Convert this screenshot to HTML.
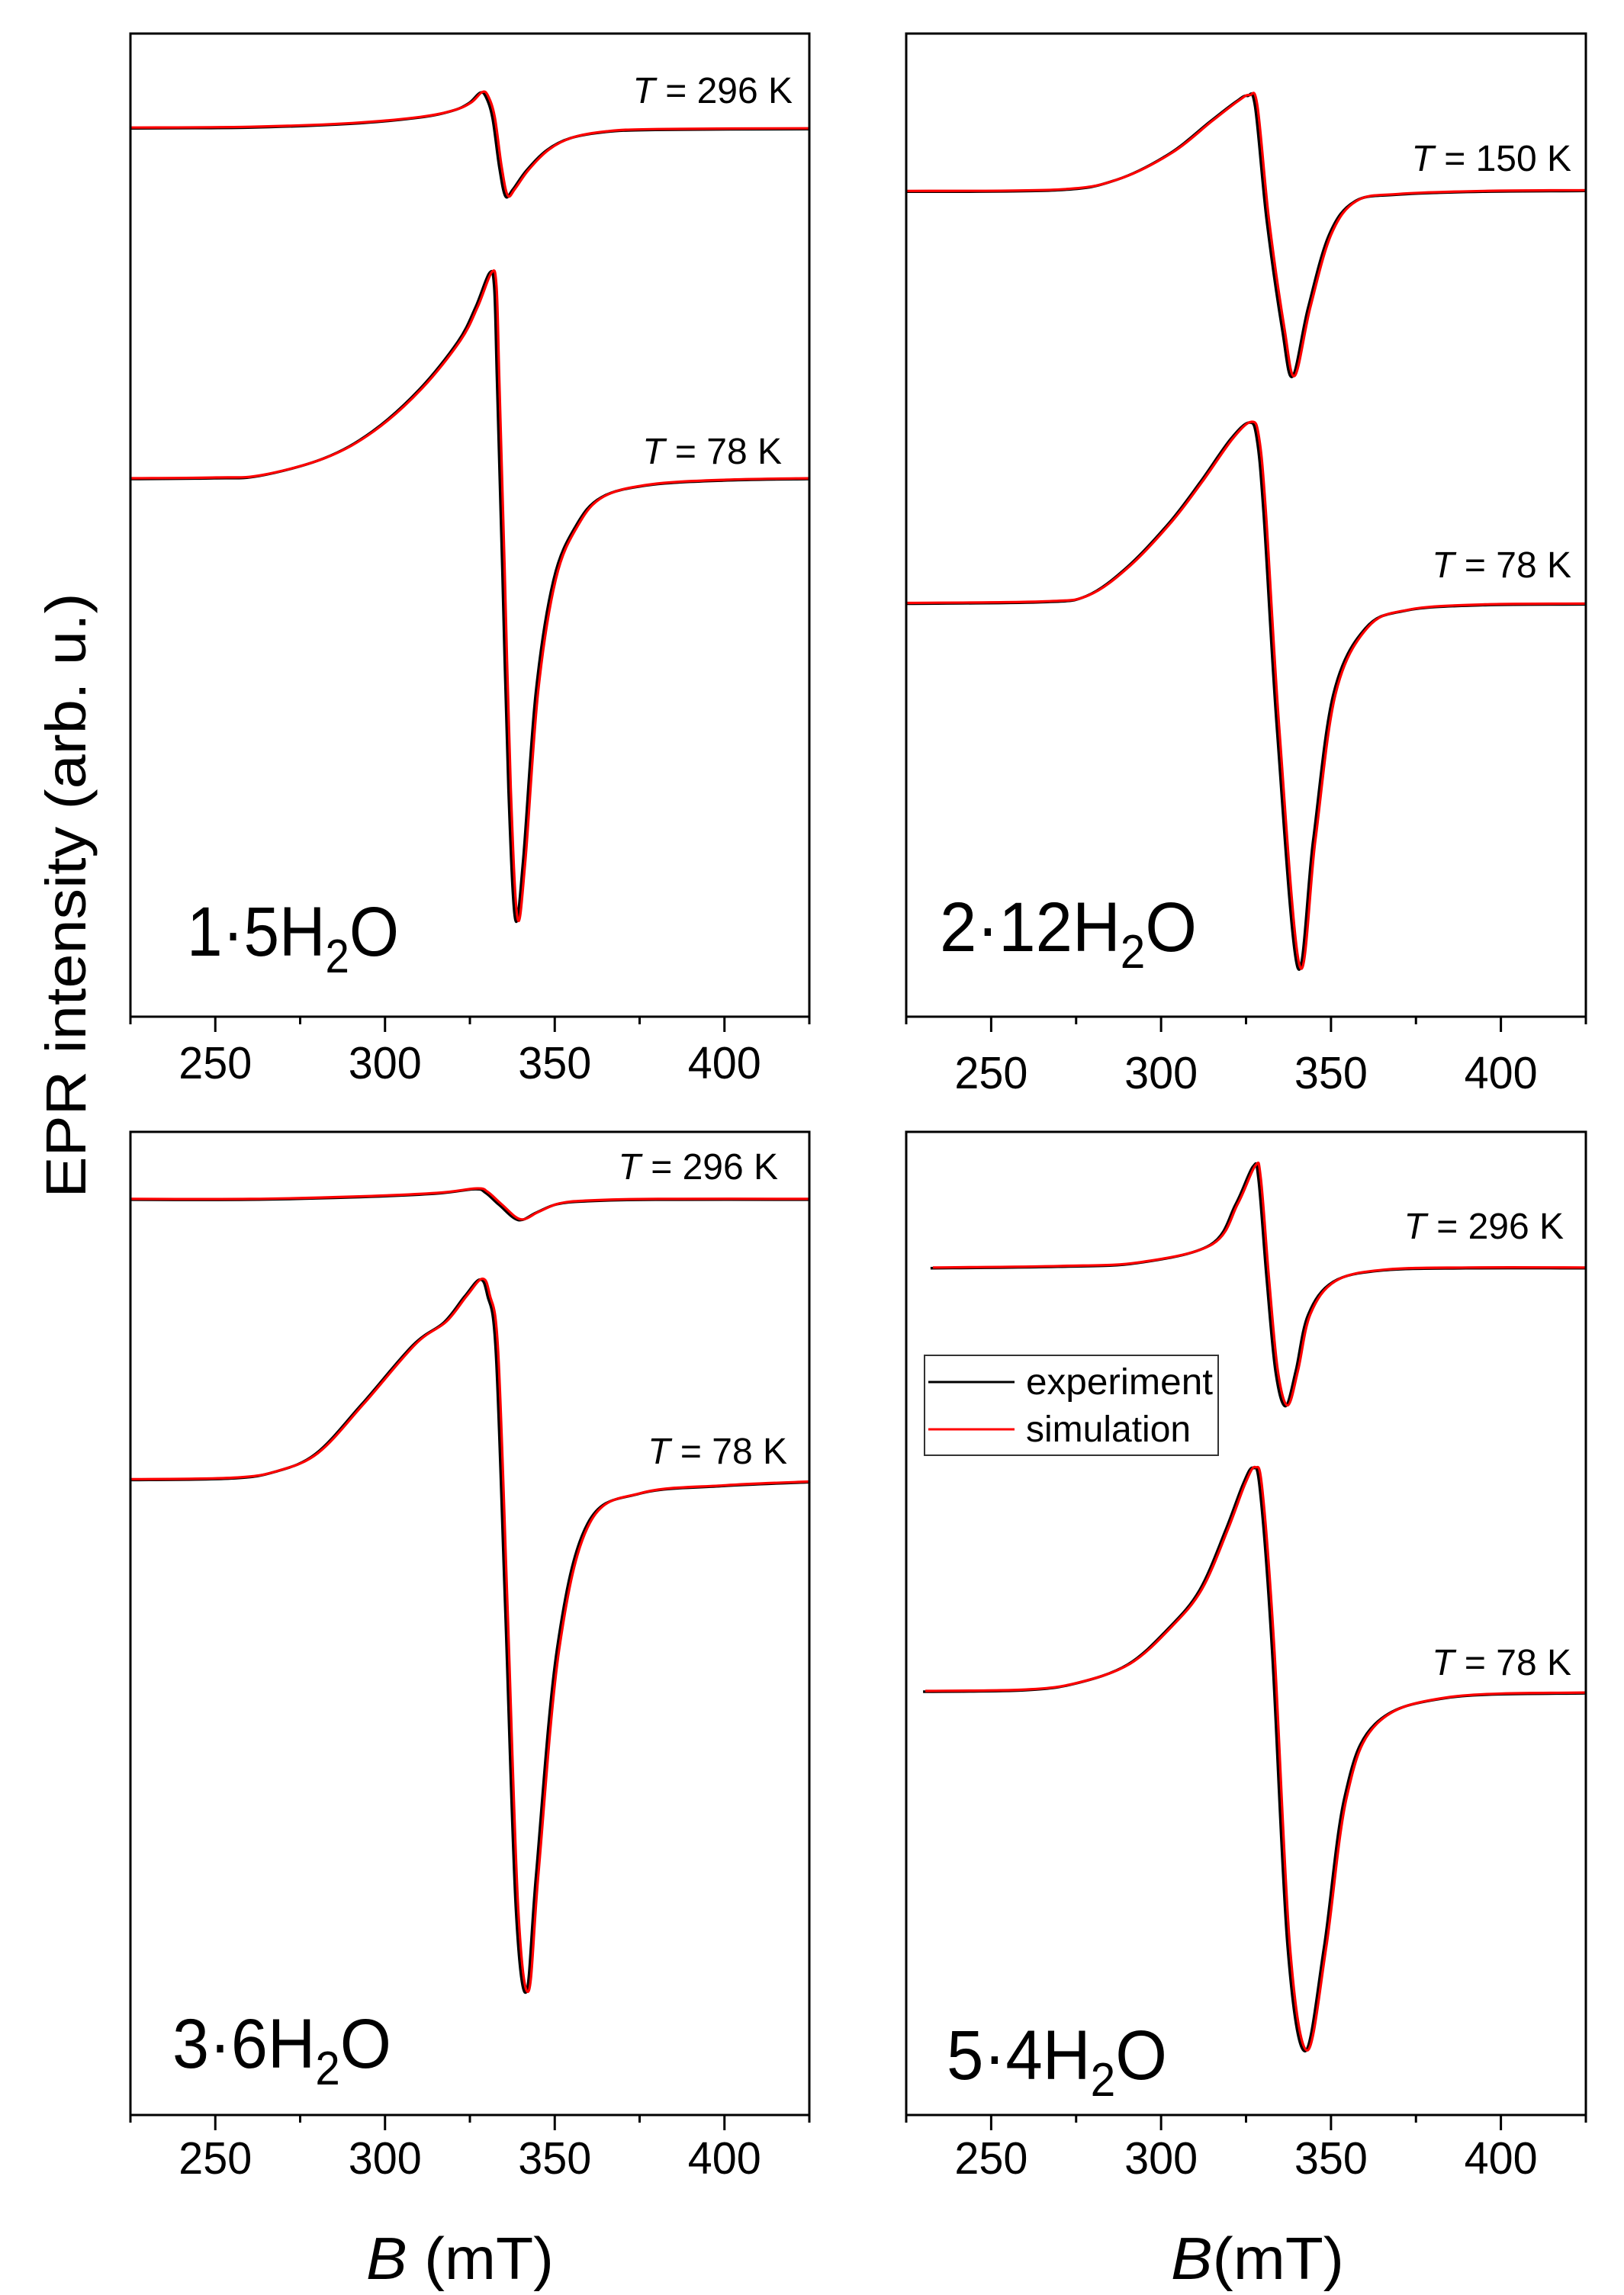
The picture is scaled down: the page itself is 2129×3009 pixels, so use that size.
<!DOCTYPE html>
<html><head><meta charset="utf-8"><style>
html,body{margin:0;padding:0;background:#fff;}
svg{display:block;}
text{font-family:"Liberation Sans",sans-serif;fill:#000;}
</style></head><body>
<svg id="s" width="2129" height="3009" viewBox="0 0 2129 3009" xmlns="http://www.w3.org/2000/svg">
<g id="curves"></g>
<g id="axes" stroke="#000" stroke-width="3" fill="none"></g>
<g id="labels"></g>
<text transform="translate(112,1174) rotate(-90)" text-anchor="middle" font-size="74" textLength="793" lengthAdjust="spacingAndGlyphs">EPR intensity (arb. u.)</text>
<text x="480" y="2988" font-size="78" textLength="246" lengthAdjust="spacingAndGlyphs"><tspan font-style="italic">B</tspan> (mT)</text>
<text x="1535" y="2988" font-size="78" textLength="227" lengthAdjust="spacingAndGlyphs"><tspan font-style="italic">B</tspan>(mT)</text>
<text x="1039" y="135" font-size="48" text-anchor="end"><tspan font-style="italic">T</tspan> = 296 K</text>
<text x="1025" y="608" font-size="48" text-anchor="end"><tspan font-style="italic">T</tspan> = 78 K</text>
<text x="2060" y="224" font-size="48" text-anchor="end"><tspan font-style="italic">T</tspan> = 150 K</text>
<text x="2060" y="757" font-size="48" text-anchor="end"><tspan font-style="italic">T</tspan> = 78 K</text>
<text x="1020" y="1546" font-size="48" text-anchor="end"><tspan font-style="italic">T</tspan> = 296 K</text>
<text x="1032" y="1919" font-size="48" text-anchor="end"><tspan font-style="italic">T</tspan> = 78 K</text>
<text x="2050" y="1624" font-size="48" text-anchor="end"><tspan font-style="italic">T</tspan> = 296 K</text>
<text x="2060" y="2196" font-size="48" text-anchor="end"><tspan font-style="italic">T</tspan> = 78 K</text>
<text x="245" y="1253" font-size="92" textLength="278" lengthAdjust="spacingAndGlyphs">1·5H<tspan font-size="62" dy="22">2</tspan><tspan dy="-22">O</tspan></text>
<text x="1232" y="1247" font-size="92" textLength="337" lengthAdjust="spacingAndGlyphs">2·12H<tspan font-size="62" dy="22">2</tspan><tspan dy="-22">O</tspan></text>
<text x="226" y="2711" font-size="92" textLength="287" lengthAdjust="spacingAndGlyphs">3·6H<tspan font-size="62" dy="22">2</tspan><tspan dy="-22">O</tspan></text>
<text x="1241" y="2726" font-size="92" textLength="289" lengthAdjust="spacingAndGlyphs">5·4H<tspan font-size="62" dy="22">2</tspan><tspan dy="-22">O</tspan></text>
<rect x="1212" y="1777" width="385" height="131" fill="#fff" stroke="#333" stroke-width="2"/>
<line x1="1217" y1="1812" x2="1330" y2="1812" stroke="#000" stroke-width="3"/>
<line x1="1217" y1="1874" x2="1330" y2="1874" stroke="#f00" stroke-width="3"/>
<text x="1345" y="1828" font-size="48" textLength="245" lengthAdjust="spacingAndGlyphs">experiment</text>
<text x="1345" y="1890" font-size="48">simulation</text>
</svg>
<script>
(function(){
var NS="http://www.w3.org/2000/svg";
var cg=document.getElementById('curves'),ag=document.getElementById('axes'),lg=document.getElementById('labels');
function el(t,a,p){var e=document.createElementNS(NS,t);for(var k in a)e.setAttribute(k,a[k]);p.appendChild(e);return e;}
var panels=[{l:171,r:1061,t:44,b:1333,ly:1414},{l:1188,r:2079,t:44,b:1333,ly:1427},{l:171,r:1061,t:1484,b:2773,ly:2850},{l:1188,r:2079,t:1484,b:2773,ly:2850}];
function X(p,B){return p.l+(B-225)*(p.r-p.l)/200;}
panels.forEach(function(p){
 el('rect',{x:p.l,y:p.t,width:p.r-p.l,height:p.b-p.t},ag);
 for(var B=225;B<=425;B+=25){var x=X(p,B);var maj=(B%50==0);el('line',{x1:x,y1:p.b,x2:x,y2:p.b+(maj?20:10)},ag);
  if(maj&&B>=250&&B<=400){var t=el('text',{x:x,y:p.ly,'font-size':'59','text-anchor':'middle',textLength:'96',lengthAdjust:'spacingAndGlyphs'},lg);t.textContent=B;}}
});
function path(p,pts,dx,dy){
 var P=pts.map(function(q){return [X(p,q[0])+dx,q[1]+dy];});
 var d='M'+P[0][0].toFixed(1)+','+P[0][1].toFixed(1);
 for(var i=0;i<P.length-1;i++){var p0=P[i>0?i-1:i],p1=P[i],p2=P[i+1],p3=P[i+2<P.length?i+2:i+1];
  var c1=[p1[0]+(p2[0]-p0[0])/6,p1[1]+(p2[1]-p0[1])/6],c2=[p2[0]-(p3[0]-p1[0])/6,p2[1]-(p3[1]-p1[1])/6];
  d+='C'+c1[0].toFixed(1)+','+c1[1].toFixed(1)+' '+c2[0].toFixed(1)+','+c2[1].toFixed(1)+' '+p2[0].toFixed(1)+','+p2[1].toFixed(1);}
 return d;}
// t: transform flag: 'T' top old coords, 'B' bottom old coords, 'N' none
var S=[
 [0,'T',[[225,169],[260,168],[290,163],[310,155],[320,146],[325,136],[328.3,122],[330,127],[332,155],[334,220],[335.8,259],[338,250],[342,225],[348,198],[355,182],[365,174],[380,171],[425,170]]],
 [0,'N',[[225,627],[250,626],[263.2,623],[282.3,600],[296.5,565],[310.4,510],[321.8,447],[327,402],[331.1,357],[332.5,375],[333.3,491],[334.9,746],[336.7,1033],[338.7,1204],[341,1129],[344.8,906],[350,759],[356.5,689],[364.1,651],[378,635],[400,629],[425,627]]],
 [1,'T',[[225,253],[270,251],[287.4,237],[302.7,203],[314.8,160],[322.3,134],[325.7,126],[328,140],[331.4,290],[336,436],[339,498],[343.6,407],[349.8,310],[357.3,266],[369.5,257],[395,253],[425,252]]],
 [1,'T',[[225,799],[265,797],[278.3,789],[290.5,750],[302.7,692],[311.7,639],[320.8,581],[326.3,559],[328.5,580],[330.5,678],[334.5,968],[340.5,1281],[345.1,1113],[351,920],[360.4,832],[372.5,808],[395,801],[425,800]]],
 [2,'B',[[225,1573],[260,1573],[290,1570],[315,1565],[326.8,1559],[330,1564],[334,1580],[339.6,1600],[345,1590],[351,1579],[360,1575],[380,1573],[425,1573]]],
 [2,'B',[[225,1945],[255,1943],[268,1934],[280,1910],[293.4,1845],[308.6,1766],[317.7,1736],[323.7,1702],[328.3,1679],[330.5,1700],[333,1776],[335.8,2121],[338.9,2515],[342,2624],[344.9,2466],[351,2170],[360,2003],[375.4,1963],[400,1953],[425,1948]]],
 [3,'B',[[232.5,1664],[270,1662],[293.4,1657],[314.8,1633],[322.3,1579],[327.4,1529],[329,1545],[331.4,1677],[334,1800],[336.9,1847],[340,1800],[343.6,1726],[351,1682],[365,1667],[390,1664],[425,1664]]],
 [3,'B',[[230.3,2226],[260,2224],[275.2,2215],[290.5,2190],[302.7,2141],[311.7,2091],[319.3,2012],[324.5,1950],[327.4,1929],[329.5,1960],[333,2170],[337.6,2565],[342.7,2703],[348.3,2565],[354.3,2367],[363.3,2269],[384.5,2234],[425,2228]]]
];
S.forEach(function(s){var p=panels[s[0]];
 var pts=s[2].map(function(q){var y=q[1];if(s[1]=='T')y=y*0.9893;else if(s[1]=='B')y=1480+(y-1480)*0.988;return [q[0],y];});
 el('path',{d:path(p,pts,-1.5,1),fill:'none',stroke:'#000','stroke-width':'3.5'},cg);
 el('path',{d:path(p,pts,1.5,0),fill:'none',stroke:'#f00','stroke-width':'3.2'},cg);});
})();
</script>
</body></html>
